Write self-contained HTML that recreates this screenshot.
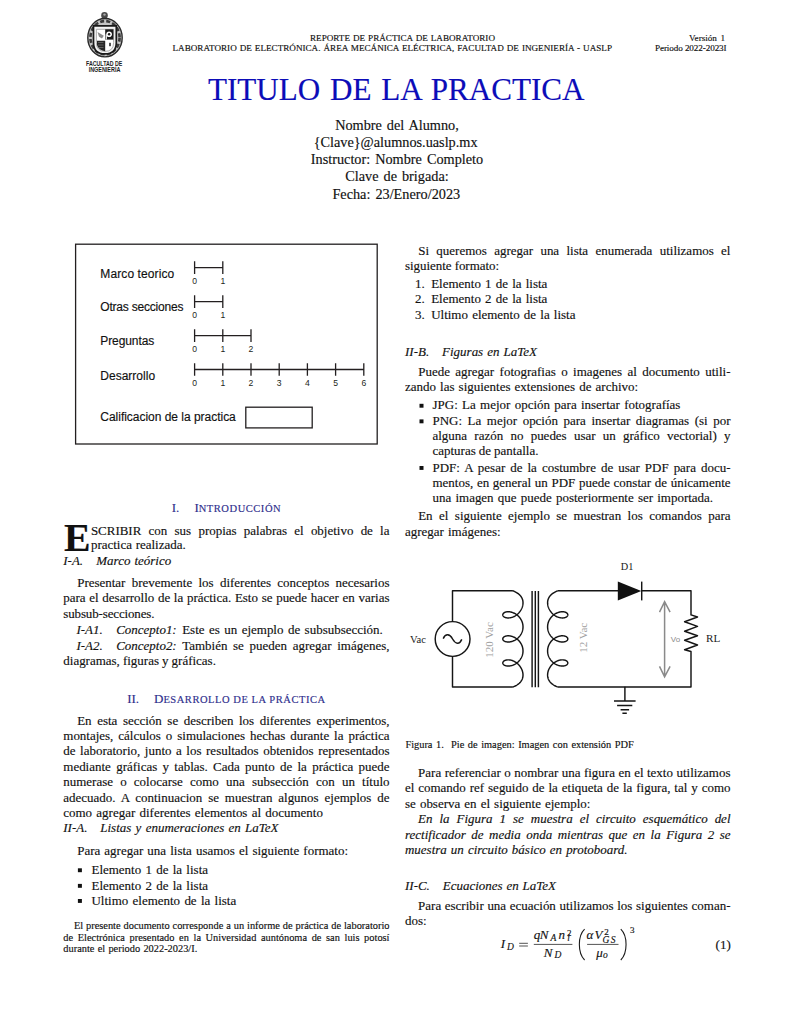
<!DOCTYPE html>
<html><head><meta charset="utf-8">
<style>
html,body{margin:0;padding:0;background:#fff;}
body{width:794px;height:1028px;position:relative;overflow:hidden;font-family:'Liberation Serif',serif;color:#111;}
.t{position:absolute;white-space:pre;line-height:1;-webkit-text-stroke:0.15px currentColor;}
svg{position:absolute;left:0;top:0;}
.sc{color:#25257a;}
</style></head><body>
<svg width="794" height="1028" viewBox="0 0 794 1028">
<!-- logo -->
<g>
  <circle cx="104.5" cy="15.4" r="3.3" fill="#4a4a4a"/>
  <circle cx="104.5" cy="14.6" r="1.2" fill="#aaa"/>
  <ellipse cx="105" cy="37.7" rx="17.2" ry="19.2" fill="#c4c4c4" stroke="#2a2a2a" stroke-width="1.4"/>
  <ellipse cx="105" cy="37.7" rx="14.6" ry="16.6" fill="none" stroke="#3a3a3a" stroke-width="2.6" stroke-dasharray="4 2.2"/>
  <path d="M93.5 25.9 H116.3 V42.5 Q116.3 53.9 104.9 53.9 Q93.5 53.9 93.5 42.5 Z" fill="#f4f4f4" stroke="#1a1a1a" stroke-width="1.7"/>
  <path d="M96.4 29.3 H113.6 V42.5 Q113.6 51.4 105 51.4 Q96.4 51.4 96.4 42.5 Z" fill="#fff" stroke="#9a9a9a" stroke-width="0.8"/>
  <rect x="105.2" y="29.3" width="8.2" height="10.3" fill="#1a1a1a"/>
  <circle cx="109.1" cy="34.3" r="2.8" fill="#fff"/>
  <circle cx="109.1" cy="34.3" r="1.2" fill="#1a1a1a"/>
  <rect x="105.6" y="34.3" width="1.4" height="5.3" fill="#ddd"/>
  <path d="M97 40.7 H105.2 V51.3 Q98.5 50.5 97 45 Z" fill="#262626"/>
  <path d="M98 42.5 H103.5 M98 45 H103.5 M99 47.5 H103.5" stroke="#777" stroke-width="0.7"/>
  <path d="M97.5 32 L103.8 35.8 L102 38.6 L99 36.8 Z" fill="#8a8a8a"/>
  <rect x="109.2" y="42.8" width="1.6" height="3.4" fill="#2a2a2a"/>
</g>
<text x="104.2" y="65.5" text-anchor="middle" font-family="Liberation Sans" font-weight="bold" font-size="6.8" fill="#1e1e1e" textLength="36.3" lengthAdjust="spacingAndGlyphs">FACULTAD DE</text>
<text x="104.5" y="71.9" text-anchor="middle" font-family="Liberation Sans" font-weight="bold" font-size="6.8" fill="#1e1e1e" textLength="31.7" lengthAdjust="spacingAndGlyphs">INGENIERÍA</text>

<!-- figure box -->
<g stroke="#231f20" fill="none" stroke-width="1.3">
  <rect x="75.6" y="244.2" width="301.6" height="199.8"/>
  <rect x="245.8" y="407.2" width="66.4" height="20.7"/>
  <path d="M194.6 267.6 H222.8 M194.6 261.3 V273.9 M222.8 261.3 V273.9"/>
  <path d="M194.6 301.6 H222.8 M194.6 295.3 V307.9 M222.8 295.3 V307.9"/>
  <path d="M194.6 335.6 H251.0 M194.6 329.3 V341.9 M222.8 329.3 V341.9 M251.0 329.3 V341.9"/>
  <path d="M194.6 369.5 H363.8 M194.6 363.2 V375.8 M222.8 363.2 V375.8 M251.0 363.2 V375.8 M279.2 363.2 V375.8 M307.4 363.2 V375.8 M335.6 363.2 V375.8 M363.8 363.2 V375.8"/>
</g>
<g font-family="Liberation Sans" font-size="8.6" fill="#231f20" text-anchor="middle">
  <text x="194.6" y="284.3">0</text><text x="222.8" y="284.3">1</text>
  <text x="194.6" y="318.3">0</text><text x="222.8" y="318.3">1</text>
  <text x="194.6" y="352.3">0</text><text x="222.8" y="352.3">1</text><text x="251.0" y="352.3">2</text>
  <text x="194.6" y="386.2">0</text><text x="222.8" y="386.2">1</text><text x="251.0" y="386.2">2</text><text x="279.2" y="386.2">3</text><text x="307.4" y="386.2">4</text><text x="335.6" y="386.2">5</text><text x="363.8" y="386.2">6</text>
</g>

<!-- circuit -->
<g stroke="#151515" fill="none" stroke-width="1.45" stroke-linejoin="round">
  <path d="M512.9 590.8 H452.5 V621.4 M452.5 656.6 V687.0 H512.9"/>
  <circle cx="452.6" cy="639" r="17.4"/>
  <path d="M443.2 638.6 C445.6 633.4 449.6 633.6 452.6 639 C455.6 644.4 459.6 644.6 461.8 639.4"/>
  <path d="M512.90 590.80 L513.36 590.98 L513.82 591.17 L514.28 591.37 L514.74 591.58 L515.19 591.80 L515.64 592.03 L516.08 592.27 L516.52 592.52 L516.95 592.79 L517.37 593.06 L517.78 593.34 L518.18 593.64 L518.57 593.94 L518.94 594.26 L519.31 594.58 L519.66 594.92 L519.99 595.27 L520.32 595.63 L520.62 596.00 L520.91 596.38 L521.19 596.77 L521.44 597.17 L521.68 597.58 L521.90 598.00 L522.10 598.44 L522.28 598.87 L522.44 599.32 L522.58 599.78 L522.71 600.24 L522.81 600.72 L522.89 601.20 L522.94 601.68 L522.98 602.17 L523.00 602.67 L522.99 603.17 L522.97 603.68 L522.92 604.19 L522.85 604.70 L522.77 605.21 L522.66 605.72 L522.53 606.24 L522.38 606.75 L522.21 607.26 L522.02 607.77 L521.81 608.28 L521.58 608.78 L521.33 609.27 L521.07 609.76 L520.79 610.24 L520.49 610.72 L520.18 611.18 L519.85 611.64 L519.51 612.08 L519.15 612.51 L518.78 612.93 L518.40 613.34 L518.01 613.73 L517.60 614.11 L517.19 614.47 L516.77 614.81 L516.33 615.14 L515.90 615.45 L515.45 615.75 L515.00 616.02 L514.55 616.28 L514.09 616.51 L513.63 616.73 L513.16 616.93 L512.70 617.10 L512.24 617.26 L511.78 617.40 L511.32 617.53 L510.86 617.64 L510.41 617.73 L509.97 617.80 L509.53 617.86 L509.10 617.90 L508.67 617.93 L508.26 617.94 L507.85 617.93 L507.45 617.91 L507.07 617.88 L506.70 617.83 L506.34 617.77 L506.00 617.70 L505.67 617.61 L505.35 617.51 L505.05 617.40 L504.77 617.28 L504.50 617.14 L504.25 617.00 L504.02 616.85 L503.81 616.69 L503.62 616.53 L503.45 616.35 L503.29 616.17 L503.16 615.99 L503.05 615.80 L502.96 615.61 L502.89 615.41 L502.84 615.21 L502.81 615.01 L502.80 614.81 L502.81 614.61 L502.85 614.42 L502.90 614.22 L502.98 614.02 L503.08 613.83 L503.20 613.64 L503.34 613.46 L503.49 613.28 L503.67 613.11 L503.87 612.95 L504.09 612.79 L504.32 612.64 L504.58 612.50 L504.85 612.37 L505.13 612.26 L505.44 612.15 L505.76 612.05 L506.09 611.97 L506.44 611.90 L506.80 611.84 L507.18 611.79 L507.57 611.76 L507.96 611.75 L508.37 611.75 L508.79 611.76 L509.22 611.79 L509.65 611.84 L510.09 611.90 L510.54 611.98 L510.99 612.08 L511.45 612.19 L511.91 612.32 L512.37 612.47 L512.83 612.63 L513.30 612.81 L513.76 613.01 L514.22 613.23 L514.68 613.46 L515.13 613.71 L515.58 613.98 L516.02 614.26 L516.46 614.56 L516.89 614.88 L517.31 615.21 L517.72 615.56 L518.12 615.92 L518.51 616.29 L518.89 616.69 L519.26 617.09 L519.61 617.51 L519.95 617.94 L520.27 618.38 L520.58 618.84 L520.87 619.31 L521.15 619.78 L521.41 620.27 L521.65 620.77 L521.87 621.27 L522.07 621.78 L522.26 622.30 L522.42 622.83 L522.57 623.36 L522.69 623.90 L522.79 624.44 L522.88 624.99 L522.94 625.53 L522.98 626.08 L523.00 626.64 L523.00 627.19 L522.97 627.74 L522.93 628.29 L522.87 628.83 L522.78 629.38 L522.67 629.92 L522.55 630.46 L522.40 630.99 L522.23 631.51 L522.04 632.03 L521.84 632.54 L521.61 633.05 L521.37 633.54 L521.11 634.03 L520.83 634.50 L520.54 634.97 L520.23 635.42 L519.90 635.86 L519.56 636.29 L519.20 636.71 L518.84 637.11 L518.46 637.50 L518.06 637.88 L517.66 638.24 L517.25 638.58 L516.83 638.91 L516.40 639.23 L515.96 639.52 L515.51 639.80 L515.06 640.07 L514.61 640.32 L514.15 640.55 L513.69 640.76 L513.23 640.96 L512.77 641.14 L512.31 641.30 L511.84 641.44 L511.39 641.57 L510.93 641.68 L510.48 641.77 L510.03 641.85 L509.59 641.91 L509.16 641.96 L508.73 641.98 L508.31 642.00 L507.91 641.99 L507.51 641.98 L507.12 641.94 L506.75 641.90 L506.39 641.84 L506.04 641.76 L505.71 641.68 L505.39 641.58 L505.09 641.47 L504.81 641.35 L504.54 641.22 L504.29 641.08 L504.06 640.93 L503.84 640.77 L503.65 640.61 L503.47 640.44 L503.31 640.26 L503.18 640.07 L503.06 639.88 L502.97 639.69 L502.90 639.50 L502.84 639.30 L502.81 639.10 L502.80 638.90 L502.81 638.70 L502.84 638.50 L502.90 638.30 L502.97 638.11 L503.06 637.92 L503.18 637.73 L503.31 637.54 L503.47 637.36 L503.65 637.19 L503.84 637.03 L504.06 636.87 L504.29 636.72 L504.54 636.58 L504.81 636.45 L505.09 636.33 L505.39 636.22 L505.71 636.12 L506.04 636.04 L506.39 635.96 L506.75 635.90 L507.12 635.86 L507.51 635.82 L507.91 635.81 L508.31 635.80 L508.73 635.82 L509.16 635.84 L509.59 635.89 L510.03 635.95 L510.48 636.03 L510.93 636.12 L511.39 636.23 L511.84 636.36 L512.31 636.50 L512.77 636.66 L513.23 636.84 L513.69 637.04 L514.15 637.25 L514.61 637.48 L515.06 637.73 L515.51 638.00 L515.96 638.28 L516.40 638.57 L516.83 638.89 L517.25 639.22 L517.66 639.56 L518.06 639.92 L518.46 640.30 L518.84 640.69 L519.20 641.09 L519.56 641.51 L519.90 641.94 L520.23 642.38 L520.54 642.83 L520.83 643.30 L521.11 643.77 L521.37 644.26 L521.61 644.75 L521.84 645.26 L522.04 645.77 L522.23 646.29 L522.40 646.81 L522.55 647.34 L522.67 647.88 L522.78 648.42 L522.87 648.97 L522.93 649.51 L522.97 650.06 L523.00 650.61 L523.00 651.16 L522.98 651.72 L522.94 652.27 L522.88 652.81 L522.79 653.36 L522.69 653.90 L522.57 654.44 L522.42 654.97 L522.26 655.50 L522.07 656.02 L521.87 656.53 L521.65 657.03 L521.41 657.53 L521.15 658.02 L520.87 658.49 L520.58 658.96 L520.27 659.42 L519.95 659.86 L519.61 660.29 L519.26 660.71 L518.89 661.11 L518.51 661.51 L518.12 661.88 L517.72 662.24 L517.31 662.59 L516.89 662.92 L516.46 663.24 L516.02 663.54 L515.58 663.82 L515.13 664.09 L514.68 664.34 L514.22 664.57 L513.76 664.79 L513.30 664.99 L512.83 665.17 L512.37 665.33 L511.91 665.48 L511.45 665.61 L510.99 665.72 L510.54 665.82 L510.09 665.90 L509.65 665.96 L509.22 666.01 L508.79 666.04 L508.37 666.05 L507.96 666.05 L507.57 666.04 L507.18 666.01 L506.80 665.96 L506.44 665.90 L506.09 665.83 L505.76 665.75 L505.44 665.65 L505.13 665.54 L504.85 665.43 L504.58 665.30 L504.32 665.16 L504.09 665.01 L503.87 664.85 L503.67 664.69 L503.49 664.52 L503.34 664.34 L503.20 664.16 L503.08 663.97 L502.98 663.78 L502.90 663.58 L502.85 663.38 L502.81 663.19 L502.80 662.99 L502.81 662.79 L502.84 662.59 L502.89 662.39 L502.96 662.19 L503.05 662.00 L503.16 661.81 L503.29 661.63 L503.45 661.45 L503.62 661.27 L503.81 661.11 L504.02 660.95 L504.25 660.80 L504.50 660.66 L504.77 660.52 L505.05 660.40 L505.35 660.29 L505.67 660.19 L506.00 660.10 L506.34 660.03 L506.70 659.97 L507.07 659.92 L507.45 659.89 L507.85 659.87 L508.26 659.86 L508.67 659.87 L509.10 659.90 L509.53 659.94 L509.97 660.00 L510.41 660.07 L510.86 660.16 L511.32 660.27 L511.78 660.40 L512.24 660.54 L512.70 660.70 L513.16 660.87 L513.63 661.07 L514.09 661.29 L514.55 661.52 L515.00 661.78 L515.45 662.05 L515.90 662.35 L516.33 662.66 L516.77 662.99 L517.19 663.33 L517.60 663.69 L518.01 664.07 L518.40 664.46 L518.78 664.87 L519.15 665.29 L519.51 665.72 L519.85 666.16 L520.18 666.62 L520.49 667.08 L520.79 667.56 L521.07 668.04 L521.33 668.53 L521.58 669.02 L521.81 669.52 L522.02 670.03 L522.21 670.54 L522.38 671.05 L522.53 671.56 L522.66 672.08 L522.77 672.59 L522.85 673.10 L522.92 673.61 L522.97 674.12 L522.99 674.63 L523.00 675.13 L522.98 675.63 L522.94 676.12 L522.89 676.60 L522.81 677.08 L522.71 677.56 L522.58 678.02 L522.44 678.48 L522.28 678.93 L522.10 679.36 L521.90 679.80 L521.68 680.22 L521.44 680.63 L521.19 681.03 L520.91 681.42 L520.62 681.80 L520.32 682.17 L519.99 682.53 L519.66 682.88 L519.31 683.22 L518.94 683.54 L518.57 683.86 L518.18 684.16 L517.78 684.46 L517.37 684.74 L516.95 685.01 L516.52 685.28 L516.08 685.53 L515.64 685.77 L515.19 686.00 L514.74 686.22 L514.28 686.43 L513.82 686.63 L513.36 686.82 L512.90 687.00"/><path d="M557.70 590.80 L557.24 590.98 L556.78 591.17 L556.32 591.37 L555.86 591.58 L555.41 591.80 L554.96 592.03 L554.52 592.27 L554.08 592.52 L553.65 592.79 L553.23 593.06 L552.82 593.34 L552.42 593.64 L552.03 593.94 L551.66 594.26 L551.29 594.58 L550.94 594.92 L550.61 595.27 L550.28 595.63 L549.98 596.00 L549.69 596.38 L549.41 596.77 L549.16 597.17 L548.92 597.58 L548.70 598.00 L548.50 598.44 L548.32 598.87 L548.16 599.32 L548.02 599.78 L547.89 600.24 L547.79 600.72 L547.71 601.20 L547.66 601.68 L547.62 602.17 L547.60 602.67 L547.61 603.17 L547.63 603.68 L547.68 604.19 L547.75 604.70 L547.83 605.21 L547.94 605.72 L548.07 606.24 L548.22 606.75 L548.39 607.26 L548.58 607.77 L548.79 608.28 L549.02 608.78 L549.27 609.27 L549.53 609.76 L549.81 610.24 L550.11 610.72 L550.42 611.18 L550.75 611.64 L551.09 612.08 L551.45 612.51 L551.82 612.93 L552.20 613.34 L552.59 613.73 L553.00 614.11 L553.41 614.47 L553.83 614.81 L554.27 615.14 L554.70 615.45 L555.15 615.75 L555.60 616.02 L556.05 616.28 L556.51 616.51 L556.97 616.73 L557.44 616.93 L557.90 617.10 L558.36 617.26 L558.82 617.40 L559.28 617.53 L559.74 617.64 L560.19 617.73 L560.63 617.80 L561.07 617.86 L561.50 617.90 L561.93 617.93 L562.34 617.94 L562.75 617.93 L563.15 617.91 L563.53 617.88 L563.90 617.83 L564.26 617.77 L564.60 617.70 L564.93 617.61 L565.25 617.51 L565.55 617.40 L565.83 617.28 L566.10 617.14 L566.35 617.00 L566.58 616.85 L566.79 616.69 L566.98 616.53 L567.15 616.35 L567.31 616.17 L567.44 615.99 L567.55 615.80 L567.64 615.61 L567.71 615.41 L567.76 615.21 L567.79 615.01 L567.80 614.81 L567.79 614.61 L567.75 614.42 L567.70 614.22 L567.62 614.02 L567.52 613.83 L567.40 613.64 L567.26 613.46 L567.11 613.28 L566.93 613.11 L566.73 612.95 L566.51 612.79 L566.28 612.64 L566.02 612.50 L565.75 612.37 L565.47 612.26 L565.16 612.15 L564.84 612.05 L564.51 611.97 L564.16 611.90 L563.80 611.84 L563.42 611.79 L563.03 611.76 L562.64 611.75 L562.23 611.75 L561.81 611.76 L561.38 611.79 L560.95 611.84 L560.51 611.90 L560.06 611.98 L559.61 612.08 L559.15 612.19 L558.69 612.32 L558.23 612.47 L557.77 612.63 L557.30 612.81 L556.84 613.01 L556.38 613.23 L555.92 613.46 L555.47 613.71 L555.02 613.98 L554.58 614.26 L554.14 614.56 L553.71 614.88 L553.29 615.21 L552.88 615.56 L552.48 615.92 L552.09 616.29 L551.71 616.69 L551.34 617.09 L550.99 617.51 L550.65 617.94 L550.33 618.38 L550.02 618.84 L549.73 619.31 L549.45 619.78 L549.19 620.27 L548.95 620.77 L548.73 621.27 L548.53 621.78 L548.34 622.30 L548.18 622.83 L548.03 623.36 L547.91 623.90 L547.81 624.44 L547.72 624.99 L547.66 625.53 L547.62 626.08 L547.60 626.64 L547.60 627.19 L547.63 627.74 L547.67 628.29 L547.73 628.83 L547.82 629.38 L547.93 629.92 L548.05 630.46 L548.20 630.99 L548.37 631.51 L548.56 632.03 L548.76 632.54 L548.99 633.05 L549.23 633.54 L549.49 634.03 L549.77 634.50 L550.06 634.97 L550.37 635.42 L550.70 635.86 L551.04 636.29 L551.40 636.71 L551.76 637.11 L552.14 637.50 L552.54 637.88 L552.94 638.24 L553.35 638.58 L553.77 638.91 L554.20 639.23 L554.64 639.52 L555.09 639.80 L555.54 640.07 L555.99 640.32 L556.45 640.55 L556.91 640.76 L557.37 640.96 L557.83 641.14 L558.29 641.30 L558.76 641.44 L559.21 641.57 L559.67 641.68 L560.12 641.77 L560.57 641.85 L561.01 641.91 L561.44 641.96 L561.87 641.98 L562.29 642.00 L562.69 641.99 L563.09 641.98 L563.48 641.94 L563.85 641.90 L564.21 641.84 L564.56 641.76 L564.89 641.68 L565.21 641.58 L565.51 641.47 L565.79 641.35 L566.06 641.22 L566.31 641.08 L566.54 640.93 L566.76 640.77 L566.95 640.61 L567.13 640.44 L567.29 640.26 L567.42 640.07 L567.54 639.88 L567.63 639.69 L567.70 639.50 L567.76 639.30 L567.79 639.10 L567.80 638.90 L567.79 638.70 L567.76 638.50 L567.70 638.30 L567.63 638.11 L567.54 637.92 L567.42 637.73 L567.29 637.54 L567.13 637.36 L566.95 637.19 L566.76 637.03 L566.54 636.87 L566.31 636.72 L566.06 636.58 L565.79 636.45 L565.51 636.33 L565.21 636.22 L564.89 636.12 L564.56 636.04 L564.21 635.96 L563.85 635.90 L563.48 635.86 L563.09 635.82 L562.69 635.81 L562.29 635.80 L561.87 635.82 L561.44 635.84 L561.01 635.89 L560.57 635.95 L560.12 636.03 L559.67 636.12 L559.21 636.23 L558.76 636.36 L558.29 636.50 L557.83 636.66 L557.37 636.84 L556.91 637.04 L556.45 637.25 L555.99 637.48 L555.54 637.73 L555.09 638.00 L554.64 638.28 L554.20 638.57 L553.77 638.89 L553.35 639.22 L552.94 639.56 L552.54 639.92 L552.14 640.30 L551.76 640.69 L551.40 641.09 L551.04 641.51 L550.70 641.94 L550.37 642.38 L550.06 642.83 L549.77 643.30 L549.49 643.77 L549.23 644.26 L548.99 644.75 L548.76 645.26 L548.56 645.77 L548.37 646.29 L548.20 646.81 L548.05 647.34 L547.93 647.88 L547.82 648.42 L547.73 648.97 L547.67 649.51 L547.63 650.06 L547.60 650.61 L547.60 651.16 L547.62 651.72 L547.66 652.27 L547.72 652.81 L547.81 653.36 L547.91 653.90 L548.03 654.44 L548.18 654.97 L548.34 655.50 L548.53 656.02 L548.73 656.53 L548.95 657.03 L549.19 657.53 L549.45 658.02 L549.73 658.49 L550.02 658.96 L550.33 659.42 L550.65 659.86 L550.99 660.29 L551.34 660.71 L551.71 661.11 L552.09 661.51 L552.48 661.88 L552.88 662.24 L553.29 662.59 L553.71 662.92 L554.14 663.24 L554.58 663.54 L555.02 663.82 L555.47 664.09 L555.92 664.34 L556.38 664.57 L556.84 664.79 L557.30 664.99 L557.77 665.17 L558.23 665.33 L558.69 665.48 L559.15 665.61 L559.61 665.72 L560.06 665.82 L560.51 665.90 L560.95 665.96 L561.38 666.01 L561.81 666.04 L562.23 666.05 L562.64 666.05 L563.03 666.04 L563.42 666.01 L563.80 665.96 L564.16 665.90 L564.51 665.83 L564.84 665.75 L565.16 665.65 L565.47 665.54 L565.75 665.43 L566.02 665.30 L566.28 665.16 L566.51 665.01 L566.73 664.85 L566.93 664.69 L567.11 664.52 L567.26 664.34 L567.40 664.16 L567.52 663.97 L567.62 663.78 L567.70 663.58 L567.75 663.38 L567.79 663.19 L567.80 662.99 L567.79 662.79 L567.76 662.59 L567.71 662.39 L567.64 662.19 L567.55 662.00 L567.44 661.81 L567.31 661.63 L567.15 661.45 L566.98 661.27 L566.79 661.11 L566.58 660.95 L566.35 660.80 L566.10 660.66 L565.83 660.52 L565.55 660.40 L565.25 660.29 L564.93 660.19 L564.60 660.10 L564.26 660.03 L563.90 659.97 L563.53 659.92 L563.15 659.89 L562.75 659.87 L562.34 659.86 L561.93 659.87 L561.50 659.90 L561.07 659.94 L560.63 660.00 L560.19 660.07 L559.74 660.16 L559.28 660.27 L558.82 660.40 L558.36 660.54 L557.90 660.70 L557.44 660.87 L556.97 661.07 L556.51 661.29 L556.05 661.52 L555.60 661.78 L555.15 662.05 L554.70 662.35 L554.27 662.66 L553.83 662.99 L553.41 663.33 L553.00 663.69 L552.59 664.07 L552.20 664.46 L551.82 664.87 L551.45 665.29 L551.09 665.72 L550.75 666.16 L550.42 666.62 L550.11 667.08 L549.81 667.56 L549.53 668.04 L549.27 668.53 L549.02 669.02 L548.79 669.52 L548.58 670.03 L548.39 670.54 L548.22 671.05 L548.07 671.56 L547.94 672.08 L547.83 672.59 L547.75 673.10 L547.68 673.61 L547.63 674.12 L547.61 674.63 L547.60 675.13 L547.62 675.63 L547.66 676.12 L547.71 676.60 L547.79 677.08 L547.89 677.56 L548.02 678.02 L548.16 678.48 L548.32 678.93 L548.50 679.36 L548.70 679.80 L548.92 680.22 L549.16 680.63 L549.41 681.03 L549.69 681.42 L549.98 681.80 L550.28 682.17 L550.61 682.53 L550.94 682.88 L551.29 683.22 L551.66 683.54 L552.03 683.86 L552.42 684.16 L552.82 684.46 L553.23 684.74 L553.65 685.01 L554.08 685.28 L554.52 685.53 L554.96 685.77 L555.41 686.00 L555.86 686.22 L556.32 686.43 L556.78 686.63 L557.24 686.82 L557.70 687.00"/>
  <path d="M532.1 591 V687.2 M535.3 591 V687.2 M538.4 591 V687.2"/>
  <path d="M557.7 590.8 H618 M641.5 590.8 H691 V614.9 L697.5 617 L684.6 621.8 L697.5 626.4 L684.6 631.2 L697.5 635.7 L684.6 640.3 L697.5 645 L684.6 649.7 L691 651.5 V687.0 H557.7"/>
  <path d="M641.7 581.6 V600.4"/>
  <path d="M624.9 686.8 V700.9 M614 700.9 H635.6 M617.1 705.5 H632.3 M620.6 709.7 H629.1 M622.4 713.3 H626.8"/>
</g>
<path d="M617.8 581.5 L617.8 600.5 L641.3 591 Z" fill="#111"/>
<g stroke="#8a8a8a" fill="none" stroke-width="1.5">
  <path d="M664.6 601.6 V676.8 M659.5 612.1 L664.6 601.6 L670.1 612.1 M659.5 666.4 L664.6 676.8 L670.1 666.4"/>
</g>
<text x="410" y="643.1" font-family="Liberation Serif" font-size="10.6" fill="#1a1a1a">Vac</text>
<text x="620.8" y="569.6" font-family="Liberation Serif" font-size="10.3" fill="#1a1a1a">D1</text>
<text x="706" y="642.3" font-family="Liberation Serif" font-size="11.2" fill="#1a1a1a">RL</text>
<text x="670.8" y="641.7" font-family="Liberation Sans" font-size="8" fill="#8a8a8a">Vo</text>
<text transform="translate(493.4,640.0) rotate(-90)" text-anchor="middle" font-family="Liberation Serif" font-size="11" fill="#a0a0a0">120 Vac</text>
<text transform="translate(587.4,637.8) rotate(-90)" text-anchor="middle" font-family="Liberation Serif" font-size="11" fill="#a0a0a0">12 Vac</text>

<!-- bullets -->
<g fill="#111">
  <rect x="77.9" y="868.3" width="4.0" height="3.9"/>
  <rect x="77.9" y="883.9" width="4.0" height="3.9"/>
  <rect x="77.9" y="899.0" width="4.0" height="3.9"/>
  <rect x="419.5" y="403.8" width="4.0" height="3.9"/>
  <rect x="419.5" y="419.4" width="4.0" height="3.9"/>
  <rect x="419.5" y="466.0" width="4.0" height="3.9"/>
</g>
<!-- equation bars and parens -->
<g stroke="#1a1a1a" fill="none">
  <path d="M533.8 944.4 H572.4 M587.1 944.4 H618.5 M519.2 943.3 H527.9 M519.2 946.0 H527.9" stroke-width="0.75"/>
  <path d="M584.6 929.2 C577.6 936 577.6 953 584.6 960" stroke-width="1.1"/>
  <path d="M620.8 929.2 C627.8 936 627.8 953 620.8 960" stroke-width="1.1"/>
</g>
</svg>
<div class="t" style="top:34.26px;font-size:9.15px;left:310.00px;word-spacing:0.672px;">REPORTE DE PRÁCTICA DE LABORATORIO</div>
<div class="t" style="top:44.46px;font-size:9.15px;left:172.50px;word-spacing:0.697px;">LABORATORIO DE ELECTRÓNICA. ÁREA MECÁNICA ELÉCTRICA, FACULTAD DE INGENIERÍA - UASLP</div>
<div class="t" style="top:34.26px;font-size:9.15px;left:689.00px;word-spacing:1.266px;">Versión 1</div>
<div class="t" style="top:44.26px;font-size:9.15px;left:655.00px;letter-spacing:-0.097px;">Periodo 2022-2023I</div>
<div class="t" style="top:74.23px;font-size:31.1px;color:#0c0cb8;left:208.00px;word-spacing:1.995px;">TITULO DE LA PRACTICA</div>
<div class="t" style="top:118.28px;font-size:14.27px;left:335.17px;word-spacing:1.4px;">Nombre del Alumno,</div>
<div class="t" style="top:135.38px;font-size:14.27px;left:313.63px;word-spacing:1.4px;">{Clave}@alumnos.uaslp.mx</div>
<div class="t" style="top:152.28px;font-size:14.27px;left:310.81px;word-spacing:1.4px;">Instructor: Nombre Completo</div>
<div class="t" style="top:169.08px;font-size:14.27px;left:345.29px;word-spacing:1.4px;">Clave de brigada:</div>
<div class="t" style="top:186.78px;font-size:14.27px;left:332.40px;word-spacing:1.4px;">Fecha: 23/Enero/2023</div>
<div class="t" style="top:524.57px;font-size:12.97px;left:90.90px;word-spacing:4.007px;">SCRIBIR con sus propias palabras el objetivo de la</div>
<div class="t" style="top:539.47px;font-size:12.97px;left:90.90px;word-spacing:0.487px;">practica realizada.</div>
<div class="t" style="top:554.87px;font-size:12.97px;font-style:italic;left:63.30px;">I-A.</div>
<div class="t" style="top:554.87px;font-size:12.97px;font-style:italic;left:96.30px;word-spacing:0.822px;">Marco teórico</div>
<div class="t" style="top:577.27px;font-size:12.97px;left:77.20px;word-spacing:3.044px;">Presentar brevemente los diferentes conceptos necesarios</div>
<div class="t" style="top:592.47px;font-size:12.97px;left:63.30px;word-spacing:0.456px;">para el desarrollo de la práctica. Esto se puede hacer en varias</div>
<div class="t" style="top:607.77px;font-size:12.97px;left:63.30px;letter-spacing:-0.131px;">subsub-secciones.</div>
<div class="t" style="top:624.17px;font-size:12.97px;font-style:italic;left:76.40px;">I-A1.</div>
<div class="t" style="top:624.17px;font-size:12.97px;font-style:italic;left:116.20px;">Concepto1:</div>
<div class="t" style="top:624.17px;font-size:12.97px;left:182.20px;word-spacing:1.220px;">Este es un ejemplo de subsubsección.</div>
<div class="t" style="top:640.27px;font-size:12.97px;font-style:italic;left:76.40px;">I-A2.</div>
<div class="t" style="top:640.27px;font-size:12.97px;font-style:italic;left:116.20px;">Concepto2:</div>
<div class="t" style="top:640.27px;font-size:12.97px;left:182.20px;word-spacing:2.446px;">También se pueden agregar imágenes,</div>
<div class="t" style="top:655.47px;font-size:12.97px;left:63.30px;word-spacing:-0.149px;">diagramas, figuras y gráficas.</div>
<div class="t" style="top:714.97px;font-size:12.97px;left:77.20px;word-spacing:2.326px;">En esta sección se describen los diferentes experimentos,</div>
<div class="t" style="top:730.37px;font-size:12.97px;left:63.30px;word-spacing:1.741px;">montajes, cálculos o simulaciones hechas durante la práctica</div>
<div class="t" style="top:745.47px;font-size:12.97px;left:63.30px;word-spacing:1.323px;">de laboratorio, junto a los resultados obtenidos representados</div>
<div class="t" style="top:761.07px;font-size:12.97px;left:63.30px;word-spacing:2.076px;">mediante gráficas y tablas. Cada punto de la práctica puede</div>
<div class="t" style="top:776.27px;font-size:12.97px;left:63.30px;word-spacing:3.951px;">numerase o colocarse como una subsección con un título</div>
<div class="t" style="top:791.87px;font-size:12.97px;left:63.30px;word-spacing:2.660px;">adecuado. A continuacion se muestran algunos ejemplos de</div>
<div class="t" style="top:807.17px;font-size:12.97px;left:63.30px;word-spacing:1.001px;">como agregar diferentes elementos al documento</div>
<div class="t" style="top:822.37px;font-size:12.97px;font-style:italic;left:63.30px;">II-A.</div>
<div class="t" style="top:822.37px;font-size:12.97px;font-style:italic;left:100.30px;word-spacing:1.081px;">Listas y enumeraciones en LaTeX</div>
<div class="t" style="top:845.17px;font-size:12.97px;left:77.20px;word-spacing:0.871px;">Para agregar una lista usamos el siguiente formato:</div>
<div class="t" style="top:864.07px;font-size:12.97px;left:91.50px;word-spacing:1.031px;">Elemento 1 de la lista</div>
<div class="t" style="top:879.67px;font-size:12.97px;left:91.50px;word-spacing:1.031px;">Elemento 2 de la lista</div>
<div class="t" style="top:894.77px;font-size:12.97px;left:91.50px;word-spacing:1.058px;">Ultimo elemento de la lista</div>
<div class="t" style="top:921.33px;font-size:10.38px;left:73.90px;word-spacing:0.332px;">El presente documento corresponde a un informe de práctica de laboratorio</div>
<div class="t" style="top:932.93px;font-size:10.38px;left:63.30px;word-spacing:2.022px;">de Electrónica presentado en la Universidad auntónoma de san luis potosí</div>
<div class="t" style="top:944.33px;font-size:10.38px;left:63.30px;word-spacing:0.677px;">durante el periodo 2022-2023/I.</div>
<div class="t" style="top:244.97px;font-size:12.97px;left:418.20px;word-spacing:4.125px;">Si queremos agregar una lista enumerada utilizamos el</div>
<div class="t" style="top:260.47px;font-size:12.97px;left:405.00px;letter-spacing:-0.043px;">siguiente formato:</div>
<div class="t" style="top:278.07px;font-size:12.97px;left:415.10px;">1.</div>
<div class="t" style="top:278.07px;font-size:12.97px;left:431.20px;word-spacing:0.956px;">Elemento 1 de la lista</div>
<div class="t" style="top:293.47px;font-size:12.97px;left:415.10px;">2.</div>
<div class="t" style="top:293.47px;font-size:12.97px;left:431.20px;word-spacing:0.956px;">Elemento 2 de la lista</div>
<div class="t" style="top:309.07px;font-size:12.97px;left:415.10px;">3.</div>
<div class="t" style="top:309.07px;font-size:12.97px;left:431.20px;word-spacing:0.958px;">Ultimo elemento de la lista</div>
<div class="t" style="top:345.57px;font-size:12.97px;font-style:italic;left:405.00px;">II-B.</div>
<div class="t" style="top:345.57px;font-size:12.97px;font-style:italic;left:442.10px;word-spacing:0.798px;">Figuras en LaTeX</div>
<div class="t" style="top:365.77px;font-size:12.97px;left:418.20px;word-spacing:2.170px;">Puede agregar fotografias o imagenes al documento utili-</div>
<div class="t" style="top:380.87px;font-size:12.97px;left:405.00px;word-spacing:0.879px;">zando las siguientes extensiones de archivo:</div>
<div class="t" style="top:399.37px;font-size:12.97px;left:432.50px;word-spacing:1.101px;">JPG: La mejor opción para insertar fotografías</div>
<div class="t" style="top:414.97px;font-size:12.97px;left:432.50px;word-spacing:2.316px;">PNG: La mejor opción para insertar diagramas (si por</div>
<div class="t" style="top:430.37px;font-size:12.97px;left:432.50px;word-spacing:4.029px;">alguna razón no puedes usar un gráfico vectorial) y</div>
<div class="t" style="top:445.47px;font-size:12.97px;left:432.50px;word-spacing:-0.167px;">capturas de pantalla.</div>
<div class="t" style="top:461.57px;font-size:12.97px;left:432.50px;word-spacing:1.778px;">PDF: A pesar de la costumbre de usar PDF para docu-</div>
<div class="t" style="top:476.97px;font-size:12.97px;left:432.50px;word-spacing:0.471px;">mentos, en general un PDF puede constar de únicamente</div>
<div class="t" style="top:492.07px;font-size:12.97px;left:432.50px;word-spacing:0.970px;">una imagen que puede posteriormente ser importada.</div>
<div class="t" style="top:510.17px;font-size:12.97px;left:418.20px;word-spacing:3.202px;">En el siguiente ejemplo se muestran los comandos para</div>
<div class="t" style="top:525.77px;font-size:12.97px;left:405.00px;word-spacing:0.897px;">agregar imágenes:</div>
<div class="t" style="top:740.13px;font-size:10.38px;left:405.40px;word-spacing:0.978px;">Figura 1.&nbsp; Pie de imagen: Imagen con extensión PDF</div>
<div class="t" style="top:766.87px;font-size:12.97px;left:418.10px;word-spacing:0.261px;">Para referenciar o nombrar una figura en el texto utilizamos</div>
<div class="t" style="top:782.47px;font-size:12.97px;left:405.00px;word-spacing:0.686px;">el comando ref seguido de la etiqueta de la figura, tal y como</div>
<div class="t" style="top:797.87px;font-size:12.97px;left:405.00px;word-spacing:0.849px;">se observa en el siguiente ejemplo:</div>
<div class="t" style="top:813.47px;font-size:12.97px;font-style:italic;left:418.10px;word-spacing:3.748px;">En la Figura 1 se muestra el circuito esquemático del</div>
<div class="t" style="top:828.57px;font-size:12.97px;font-style:italic;left:405.00px;word-spacing:2.270px;">rectificador de media onda mientras que en la Figura 2 se</div>
<div class="t" style="top:843.67px;font-size:12.97px;font-style:italic;left:405.00px;word-spacing:0.841px;">muestra un circuito básico en protoboard.</div>
<div class="t" style="top:880.17px;font-size:12.97px;font-style:italic;left:405.00px;">II-C.</div>
<div class="t" style="top:880.17px;font-size:12.97px;font-style:italic;left:442.80px;word-spacing:0.597px;">Ecuaciones en LaTeX</div>
<div class="t" style="top:899.87px;font-size:12.97px;left:418.10px;word-spacing:0.434px;">Para escribir una ecuación utilizamos los siguientes coman-</div>
<div class="t" style="top:915.47px;font-size:12.97px;left:405.00px;">dos:</div>
<div class="t" style="top:267.60px;font-size:12.0px;font-family:'Liberation Sans', sans-serif;left:100.30px;letter-spacing:0.108px;">Marco teorico</div>
<div class="t" style="top:301.40px;font-size:12.0px;font-family:'Liberation Sans', sans-serif;left:100.30px;letter-spacing:-0.210px;">Otras secciones</div>
<div class="t" style="top:335.40px;font-size:12.0px;font-family:'Liberation Sans', sans-serif;left:100.30px;letter-spacing:-0.100px;">Preguntas</div>
<div class="t" style="top:369.60px;font-size:12.0px;font-family:'Liberation Sans', sans-serif;left:100.30px;letter-spacing:0.012px;">Desarrollo</div>
<div class="t" style="top:410.80px;font-size:12.0px;font-family:'Liberation Sans', sans-serif;left:100.30px;letter-spacing:-0.022px;">Calificacion de la practica</div>

<div class="t" style="left:64px;top:519.07px;font-size:39.8px;font-weight:bold;">E</div>
<div class="t" style="left:171.8px;top:502.27px;font-size:12.97px;color:#2e2e8c;">I.</div>
<div class="t" style="left:194.4px;top:502.27px;font-size:12.97px;color:#2e2e8c;">I<span style="font-size:10.5px;letter-spacing:0.55px">NTRODUCCIÓN</span></div>
<div class="t" style="left:127.2px;top:692.57px;font-size:12.97px;color:#2e2e8c;">II.</div>
<div class="t" style="left:154px;top:692.57px;font-size:12.97px;color:#2e2e8c;">D<span style="font-size:10.5px;letter-spacing:0.55px">ESARROLLO DE LA PRÁCTICA</span></div>
<div class="t" style="left:500.80px;top:938.17px;font-size:12.97px;font-style:italic;">I</div>
<div class="t" style="left:507.10px;top:943.07px;font-size:9.5px;font-style:italic;">D</div>
<div class="t" style="left:533.80px;top:929.07px;font-size:12.97px;font-style:italic;">q</div>
<div class="t" style="left:539.80px;top:929.07px;font-size:12.97px;font-style:italic;">N</div>
<div class="t" style="left:550.60px;top:934.47px;font-size:9.5px;font-style:italic;">A</div>
<div class="t" style="left:558.60px;top:929.07px;font-size:12.97px;font-style:italic;">n</div>
<div class="t" style="left:567.30px;top:934.47px;font-size:9.5px;font-style:italic;">i</div>
<div class="t" style="left:567.00px;top:928.58px;font-size:9.0px;">2</div>
<div class="t" style="left:543.80px;top:946.97px;font-size:12.97px;font-style:italic;">N</div>
<div class="t" style="left:554.60px;top:951.47px;font-size:9.5px;font-style:italic;">D</div>
<div class="t" style="left:586.40px;top:929.07px;font-size:12.97px;font-style:italic;">α</div>
<div class="t" style="left:594.60px;top:929.07px;font-size:12.97px;font-style:italic;">V</div>
<div class="t" style="left:604.30px;top:928.38px;font-size:9.0px;">2</div>
<div class="t" style="left:602.40px;top:936.07px;font-size:9.5px;font-style:italic;"><span style='letter-spacing:1.6px'>G</span>S</div>
<div class="t" style="left:596.30px;top:946.97px;font-size:12.97px;font-style:italic;">μ</div>
<div class="t" style="left:603.00px;top:951.47px;font-size:9.5px;font-style:italic;">o</div>
<div class="t" style="left:630.00px;top:925.88px;font-size:9.0px;">3</div>
<div class="t" style="left:715.60px;top:939.47px;font-size:12.97px;">(1)</div>

</body></html>
